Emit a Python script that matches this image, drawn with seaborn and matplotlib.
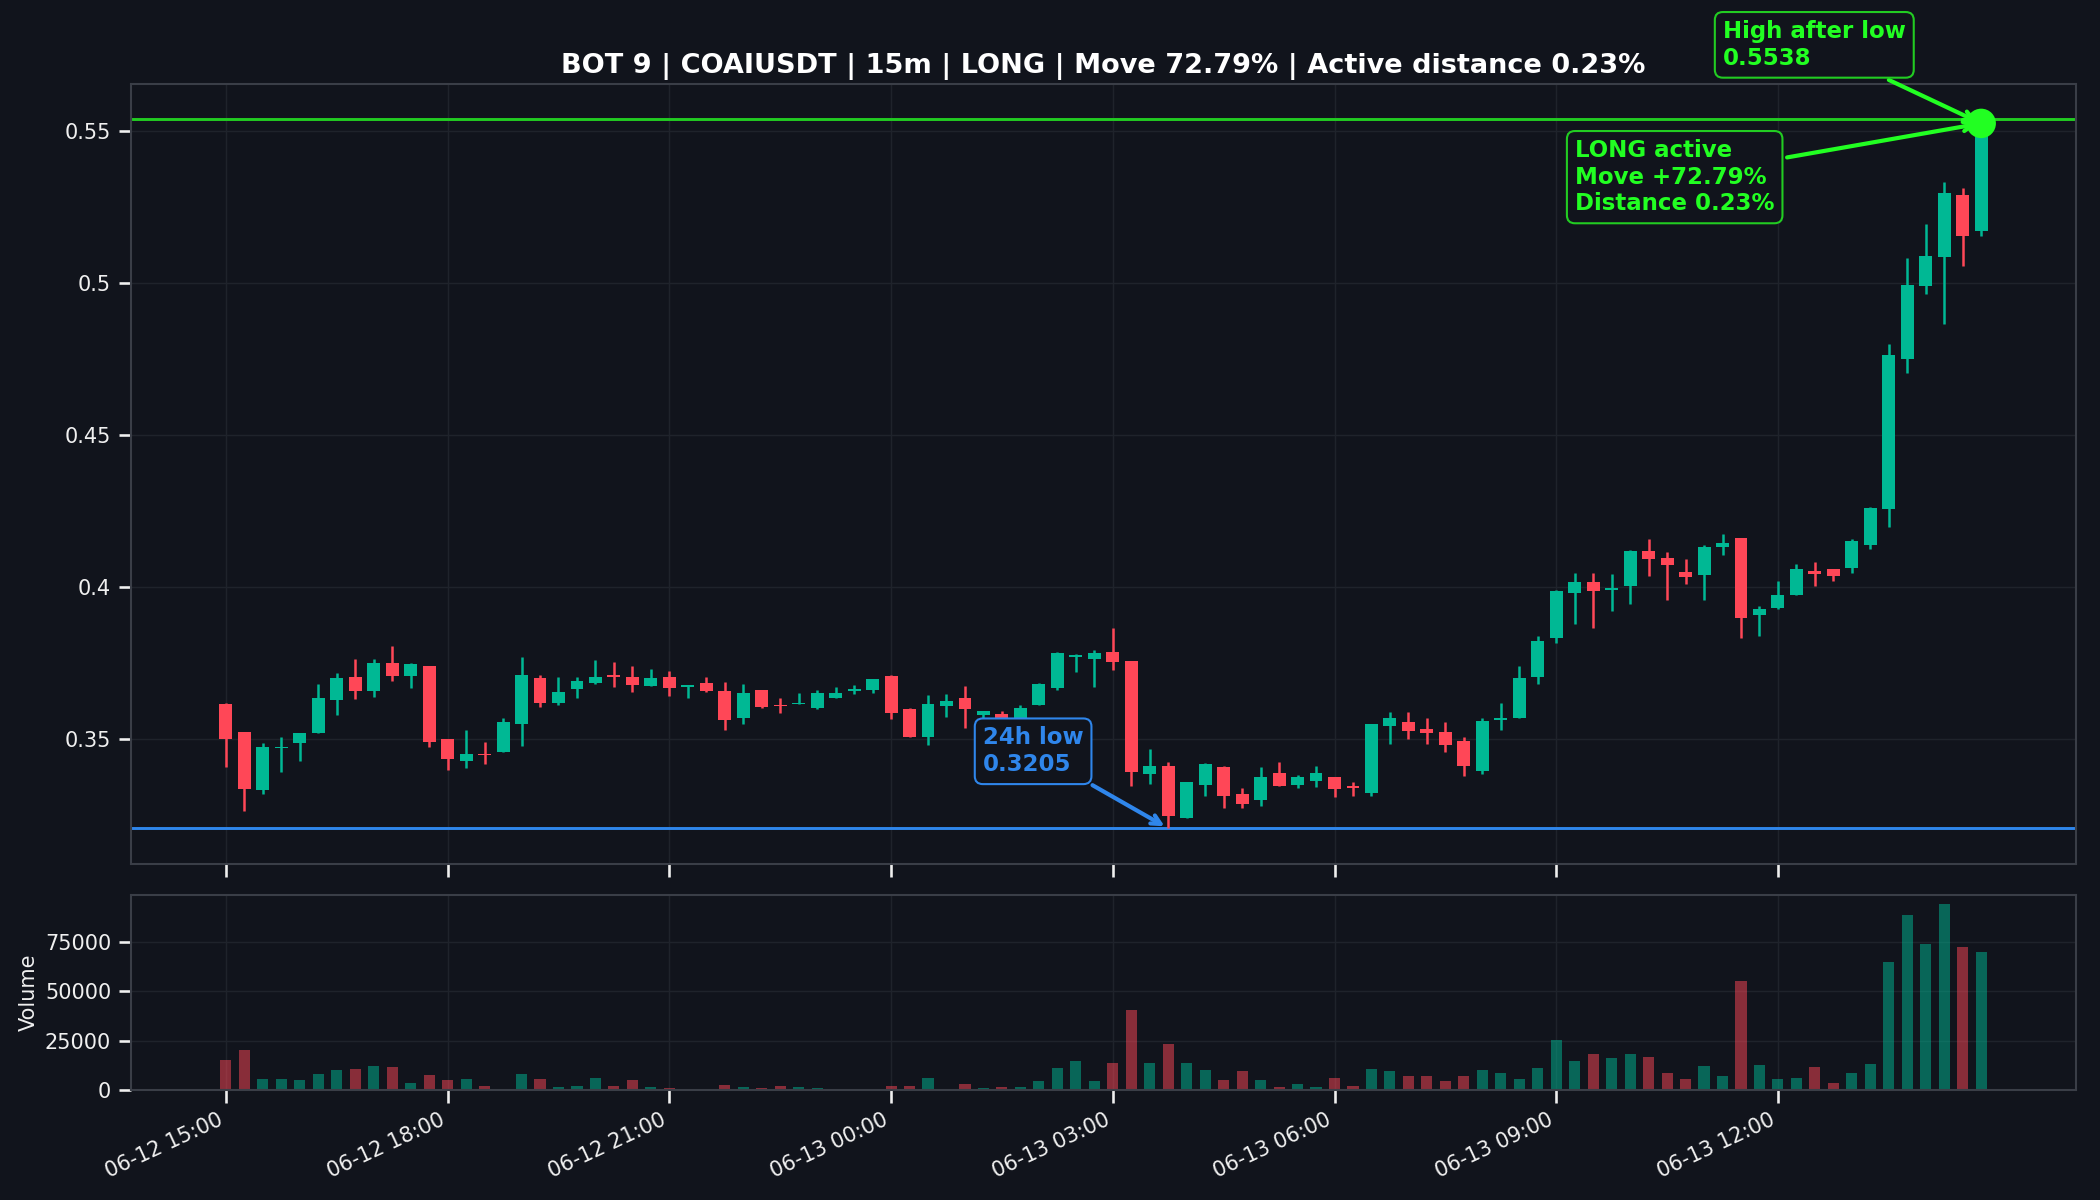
import matplotlib
matplotlib.use("Agg")
import matplotlib.dates as mdates
import numpy as np
import pandas as pd
import seaborn as sns
from matplotlib import pyplot as plt
from matplotlib.ticker import FixedLocator, FuncFormatter, MultipleLocator

BG = "#11141c"
GREEN = "#00b894"
RED = "#ff4757"
LIME = "#22ff22"
LIME_EDGE = "#22cc22"
BLUE = "#2f86eb"
GRID = "#1f232b"
SPINE = "#3a3e47"
TEXT = "#f0f0f0"

START = "2025-06-12 15:00"
TITLE = "BOT 9 | COAIUSDT | 15m | LONG | Move 72.79% | Active distance 0.23%"

opens = [
    0.3613, 0.3523, 0.3331, 0.3470, 0.3487, 0.3520, 0.3627, 0.3702, 0.3657, 0.3750,
    0.3706, 0.3740, 0.3499, 0.3428, 0.3450, 0.3457, 0.3548, 0.3699, 0.3616, 0.3664,
    0.3685, 0.3710, 0.3704, 0.3673, 0.3702, 0.3671, 0.3684, 0.3658, 0.3567, 0.3662,
    0.3611, 0.3613, 0.3600, 0.3635, 0.3657, 0.3660, 0.3706, 0.3597, 0.3507, 0.3608,
    0.3635, 0.3578, 0.3580, 0.3560, 0.3611, 0.3666, 0.3769, 0.3764, 0.3786, 0.3757,
    0.3384, 0.3411, 0.3240, 0.3348, 0.3406, 0.3317, 0.3299, 0.3386, 0.3348, 0.3361,
    0.3375, 0.3346, 0.3320, 0.3542, 0.3556, 0.3532, 0.3521, 0.3494, 0.3394, 0.3562,
    0.3569, 0.3704, 0.3830, 0.3978, 0.4016, 0.3990, 0.4002, 0.4118, 0.4096, 0.4049,
    0.4038, 0.4132, 0.4161, 0.3906, 0.3930, 0.3974, 0.4053, 0.4059, 0.4061, 0.4139,
    0.4255, 0.4751, 0.4990, 0.5085, 0.5291, 0.5170,
]
highs = [
    0.3619, 0.3523, 0.3485, 0.3505, 0.3518, 0.3679, 0.3715, 0.3764, 0.3764, 0.3806,
    0.3750, 0.3740, 0.3499, 0.3530, 0.3488, 0.3569, 0.3768, 0.3710, 0.3702, 0.3702,
    0.3758, 0.3754, 0.3738, 0.3731, 0.3722, 0.3678, 0.3702, 0.3688, 0.3681, 0.3662,
    0.3635, 0.3649, 0.3660, 0.3671, 0.3677, 0.3696, 0.3710, 0.3600, 0.3644, 0.3646,
    0.3672, 0.3592, 0.3590, 0.3611, 0.3685, 0.3786, 0.3779, 0.3791, 0.3866, 0.3757,
    0.3467, 0.3422, 0.3357, 0.3419, 0.3411, 0.3339, 0.3408, 0.3422, 0.3379, 0.3411,
    0.3375, 0.3359, 0.3550, 0.3589, 0.3589, 0.3567, 0.3554, 0.3507, 0.3569, 0.3619,
    0.3740, 0.3839, 0.3991, 0.4044, 0.4044, 0.4041, 0.4121, 0.4156, 0.4115, 0.4090,
    0.4137, 0.4175, 0.4161, 0.3938, 0.4018, 0.4076, 0.4080, 0.4059, 0.4158, 0.4264,
    0.4798, 0.5082, 0.5194, 0.5333, 0.5311, 0.5538,
]
lows = [
    0.3406, 0.3262, 0.3318, 0.3391, 0.3428, 0.3520, 0.3578, 0.3631, 0.3638, 0.3690,
    0.3666, 0.3473, 0.3397, 0.3404, 0.3417, 0.3455, 0.3476, 0.3604, 0.3611, 0.3633,
    0.3680, 0.3669, 0.3653, 0.3673, 0.3641, 0.3633, 0.3654, 0.3528, 0.3548, 0.3600,
    0.3584, 0.3613, 0.3598, 0.3635, 0.3647, 0.3650, 0.3565, 0.3505, 0.3479, 0.3573,
    0.3536, 0.3556, 0.3550, 0.3550, 0.3611, 0.3660, 0.3718, 0.3669, 0.3726, 0.3345,
    0.3351, 0.3205, 0.3240, 0.3312, 0.3271, 0.3273, 0.3280, 0.3345, 0.3339, 0.3341,
    0.3309, 0.3312, 0.3312, 0.3483, 0.3499, 0.3483, 0.3457, 0.3377, 0.3383, 0.3529,
    0.3569, 0.3680, 0.3816, 0.3877, 0.3866, 0.3921, 0.3945, 0.4035, 0.3958, 0.4008,
    0.3956, 0.4106, 0.3830, 0.3839, 0.3926, 0.3974, 0.4002, 0.4020, 0.4047, 0.4123,
    0.4196, 0.4702, 0.4965, 0.4866, 0.5057, 0.5156,
]
closes = [
    0.3500, 0.3335, 0.3474, 0.3473, 0.3518, 0.3635, 0.3699, 0.3658, 0.3750, 0.3706,
    0.3745, 0.3489, 0.3433, 0.3450, 0.3446, 0.3556, 0.3711, 0.3616, 0.3655, 0.3691,
    0.3704, 0.3704, 0.3677, 0.3699, 0.3667, 0.3676, 0.3657, 0.3562, 0.3651, 0.3603,
    0.3607, 0.3618, 0.3649, 0.3651, 0.3665, 0.3696, 0.3584, 0.3507, 0.3613, 0.3625,
    0.3598, 0.3591, 0.3560, 0.3602, 0.3681, 0.3781, 0.3774, 0.3781, 0.3752, 0.3392,
    0.3411, 0.3246, 0.3357, 0.3416, 0.3310, 0.3285, 0.3375, 0.3345, 0.3373, 0.3386,
    0.3335, 0.3337, 0.3550, 0.3567, 0.3525, 0.3519, 0.3479, 0.3410, 0.3559, 0.3567,
    0.3701, 0.3822, 0.3987, 0.4016, 0.3986, 0.3995, 0.4118, 0.4093, 0.4071, 0.4032,
    0.4132, 0.4145, 0.3897, 0.3927, 0.3973, 0.4059, 0.4043, 0.4035, 0.4150, 0.4258,
    0.4763, 0.4992, 0.5088, 0.5295, 0.5156, 0.5525,
]
volumes = [
    15000, 20100, 5300, 5800, 4800, 8300, 9900, 10400, 11900, 11400,
    3700, 7800, 4800, 5300, 2200, 700, 8300, 5800, 1700, 2200,
    6300, 2200, 4800, 1700, 1200, 700, 300, 2700, 1700, 1200,
    2200, 1700, 1200, 300, 300, 700, 2200, 2200, 6300, 700,
    3200, 1200, 1700, 1700, 4300, 10900, 14500, 4300, 13900, 40500,
    13400, 23100, 13400, 9900, 4800, 9400, 4800, 1700, 3200, 1700,
    6300, 2200, 10400, 9400, 7300, 7300, 4300, 7300, 9900, 8800,
    5300, 10900, 25200, 14500, 18000, 16000, 18000, 16500, 8800, 5800,
    11900, 7300, 55300, 12400, 5300, 6300, 11400, 3700, 8800, 12900,
    64900, 88400, 74100, 94000, 72600, 70000,
]

move_pct = "72.79"
distance_pct = "0.23"

sns.set_theme(context="notebook", style="dark", rc={
    "figure.facecolor": BG,
    "axes.facecolor": BG,
    "axes.edgecolor": SPINE,
    "axes.linewidth": 1.0,
    "axes.grid": True,
    "grid.color": GRID,
    "grid.linewidth": 0.7,
    "text.color": TEXT,
    "axes.labelcolor": TEXT,
    "xtick.color": TEXT,
    "ytick.color": TEXT,
    "xtick.bottom": True,
    "ytick.left": True,
    "xtick.labelsize": 10,
    "ytick.labelsize": 10,
    "axes.labelsize": 10,
    "patch.edgecolor": "none",
})
plt.rcParams["font.family"] = ["DejaVu Sans"]

df = pd.DataFrame({
    "time": pd.date_range(START, periods=len(opens), freq="15min"),
    "open": opens, "high": highs, "low": lows, "close": closes, "volume": volumes,
})
x = mdates.date2num(df["time"])
step = 1 / 96
up = df["close"] >= df["open"]
colors = np.where(up, GREEN, RED)
body_low = np.minimum(df["open"], df["close"])
body_h = np.maximum((df["close"] - df["open"]).abs(), 0.00025)

fig = plt.figure(figsize=(14, 8), dpi=150)
gs = fig.add_gridspec(2, 1, height_ratios=[4, 1], left=0.0624, right=0.9886,
                      top=0.93, bottom=0.0917, hspace=0.064)
ax = fig.add_subplot(gs[0])
ax_vol = fig.add_subplot(gs[1], sharex=ax)

# candles
ax.vlines(x, df["low"], df["high"], color=colors, lw=1.2, zorder=2)
ax.bar(x, body_h, bottom=body_low, width=0.7 * step, color=colors,
       edgecolor="none", linewidth=0, zorder=3)

i_low = int(df["low"].idxmin())
low_val = df["low"][i_low]
high_val = df["high"][i_low:].max()
last_x = x[-1]
last_close = df["close"].iloc[-1]

ax.axhline(high_val, color=LIME_EDGE, lw=1.4, zorder=1)
ax.axhline(low_val, color=BLUE, lw=1.4, zorder=1)
ax.scatter([last_x], [last_close], s=200, color=LIME, edgecolor="none", zorder=6)

box = dict(boxstyle="round,pad=0.35", fc=BG, lw=1.0)
ax.annotate(f"24h low\n{low_val:.4f}", xy=(x[i_low], low_val), xytext=(-89, 37),
            textcoords="offset points", ha="left", va="center", color=BLUE,
            fontsize=11, fontweight="bold", bbox={**box, "ec": BLUE},
            arrowprops=dict(arrowstyle="->", color=BLUE, lw=2), zorder=7)
ax.annotate(f"High after low\n{high_val:.4f}", xy=(last_x, last_close), xytext=(-124, 37.7),
            textcoords="offset points", ha="left", va="center", color=LIME,
            fontsize=11, fontweight="bold", bbox={**box, "ec": LIME_EDGE},
            arrowprops=dict(arrowstyle="->", color=LIME, lw=2), zorder=7,
            annotation_clip=False)
ax.annotate(f"LONG active\nMove +{move_pct}%\nDistance {distance_pct}%",
            xy=(last_x, last_close), xytext=(-195, -25.8),
            textcoords="offset points", ha="left", va="center", color=LIME,
            fontsize=11, fontweight="bold", bbox={**box, "ec": LIME_EDGE},
            arrowprops=dict(arrowstyle="->", color=LIME, lw=2), zorder=7)

ax.set_title(TITLE, fontsize=13, fontweight="bold", color="white", pad=5.5)
ax.yaxis.set_major_formatter(FuncFormatter(lambda v, _: f"{v:g}"))

# volume
ax_vol.bar(x, df["volume"], width=0.6 * step, color=colors, alpha=0.5,
           edgecolor="none", linewidth=0, zorder=2)
ax_vol.yaxis.set_major_locator(MultipleLocator(25000))
ax_vol.set_ylabel("Volume", labelpad=3)

# ticks every 3 hours, only where there is data
tick_mask = (df["time"].dt.hour % 3 == 0) & (df["time"].dt.minute == 0)
ax_vol.xaxis.set_major_locator(FixedLocator(x[tick_mask.to_numpy()]))
ax_vol.xaxis.set_major_formatter(mdates.DateFormatter("%m-%d %H:%M"))
plt.setp(ax.get_xticklabels(), visible=False)
plt.setp(ax_vol.get_xticklabels(), rotation=25, ha="right")

for a in (ax, ax_vol):
    a.grid(True, color=GRID, lw=0.7)
    for s in a.spines.values():
        s.set_visible(True)
        s.set_color(SPINE)

fig.savefig("out.png", dpi=150, facecolor=BG)
